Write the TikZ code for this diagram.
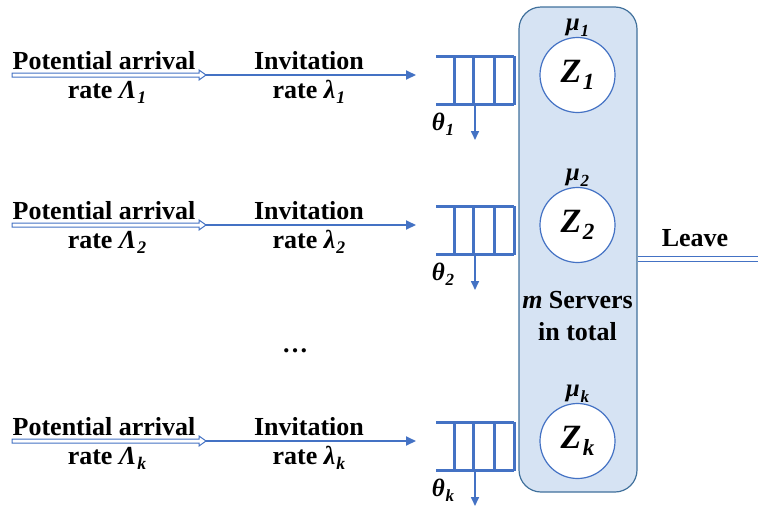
\documentclass[tikz,border=0pt]{standalone}
\usepackage{fontspec}
\setmainfont{Liberation Serif}
\usetikzlibrary{arrows.meta}
\definecolor{qblue}{HTML}{4472C4}
\definecolor{boxfill}{HTML}{D6E3F3}
\definecolor{boxline}{HTML}{41719C}
% bold italic symbol with a bold italic subscript
\newcommand\bisym[2]{\textbf{\textit{#1\kern0.04em\raisebox{-0.22em}{\scalebox{0.68}{#2}}}}}

\begin{document}
\begin{tikzpicture}[x=1pt,y=-1pt,
  lbl/.style={font=\fontsize{26}{30}\selectfont\bfseries, inner sep=0pt, anchor=base},
  greek/.style={font=\fontsize{25}{28}\selectfont, inner sep=0pt, anchor=base},
  flow/.style={draw=qblue, line width=2pt, -{Triangle[length=10pt,width=9pt]}},
  drop/.style={draw=qblue, line width=1.6pt, -{Triangle[length=9pt,width=8pt]}},
  qline/.style={draw=qblue, line width=3.2pt},
  server/.style={circle, draw=qblue, line width=1.2pt, fill=white, minimum size=75pt, inner sep=0pt,
                 font=\fontsize{34}{38}\selectfont},
  hollow/.style={draw=qblue, line width=1pt, fill=white},
  pool/.style={draw=boxline, fill=boxfill, line width=1.2pt, rounded corners=22pt,
               minimum width=118pt, minimum height=485pt, inner sep=0pt},
  queue/.style={minimum width=76pt, minimum height=48pt, inner sep=0pt}
]
\useasboundingbox (0,0) rectangle (758,509);

% pool of servers
\node[pool] (pool) at (578,249.5) {};

\foreach \y/\s/\n in {75/1/a, 225/2/b, 441/k/c} {
  % potential arrivals: hollow block arrow
  \coordinate (src\n) at (12,\y);
  \coordinate (mid\n) at (206,\y);
  \draw[hollow] ([yshift=2pt]src\n) -- ([xshift=-7pt,yshift=2pt]mid\n) -- ([xshift=-7pt,yshift=5pt]mid\n)
     -- (mid\n) -- ([xshift=-7pt,yshift=-5pt]mid\n) -- ([xshift=-7pt,yshift=-2pt]mid\n)
     -- ([yshift=-2pt]src\n) -- cycle;
  \node[lbl] (pa\n) at (104,\y-6) {Potential arrival};
  \node[lbl] (pr\n) at (107,\y+23) {rate \bisym{Λ}{\s}};
  \node[lbl] (iv\n) at (309,\y-6) {Invitation};
  \node[lbl] (ir\n) at (309,\y+23) {rate \bisym{λ}{\s}};

  % queue
  \node[queue] (q\n) at (476,\y+5.5) {};
  \coordinate (in\n) at (416,\y);
  \draw[flow] (mid\n) -- (in\n);
  \draw[qline] ([xshift=-1.5pt]q\n.north west) -- (q\n.north east)
               (q\n.north east) -- (q\n.south east)
               ([xshift=-1.5pt]q\n.south west) -- (q\n.south east);
  \foreach \dx in {17,36,57} {
    \draw[qline] ([xshift=\dx pt]q\n.north west) -- ([xshift=\dx pt]q\n.south west);
  }
  % abandonment
  \coordinate (out\n) at (475,\y+65);
  \draw[drop] (q\n.south west -| out\n) -- (out\n);
  \node[greek] (th\n) at (443,\y+55) {\bisym{θ}{\s}};

  % server
  \node[server] (z\n) at (577.5,\y) {\bisym{Z}{\s}};
  \node[greek, anchor=base] (mu\n) at ([yshift=6pt]z\n.north) {\bisym{μ}{\s}};
}

\node[lbl] (dots) at (295,352) {…};
\node[lbl] (tot1) at (577.5,308) {\textit{m} Servers};
\node[lbl] (tot2) at (577.5,340) {in total};

% departures
\coordinate (exit) at (760,259);
\draw[draw=qblue, line width=1.2pt, double=white, double distance=4.5pt] (pool.east |- exit) -- (exit);
\node[lbl] (leave) at (695,246) {Leave};
\end{tikzpicture}
\end{document}
